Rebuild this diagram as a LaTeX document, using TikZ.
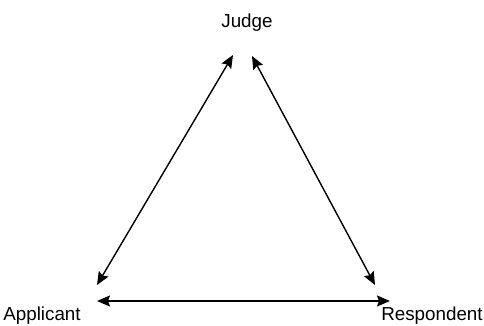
\documentclass[tikz,border=0pt]{standalone}
\usepackage{fontspec}
\setmainfont{Liberation Sans}
\usetikzlibrary{arrows.meta}
\tikzset{
    party/.style={font=\fontsize{9.4}{11}\selectfont, inner sep=1pt},
    link/.style={{Stealth[length=6.5pt,width=5.5pt,inset=1pt]}-{Stealth[length=6.5pt,width=5.5pt,inset=1pt]}, line width=0.7pt}
}
\begin{document}
\begin{tikzpicture}[x=0.5pt,y=-0.5pt]
        \useasboundingbox (0,0) rectangle (484,326);
        % die drei Parteien
        \node[party] (judge) at (247,23) {Judge};
        \node[party] (applicant) at (42,316) {Applicant};
        \node[party] (respondent) at (432,316) {Respondent};
        % Beziehungen
        \draw[link] ([shift={(-14,32)}]judge.center) -- ([shift={(55,-31)}]applicant.center);
        \draw[link] ([shift={(5,33)}]judge.center) -- ([shift={(-57,-31)}]respondent.center);
        \draw[link] ([shift={(55,-15)}]applicant.center) -- ([shift={(-42,-15)}]respondent.center);
    \end{tikzpicture}
\end{document}
